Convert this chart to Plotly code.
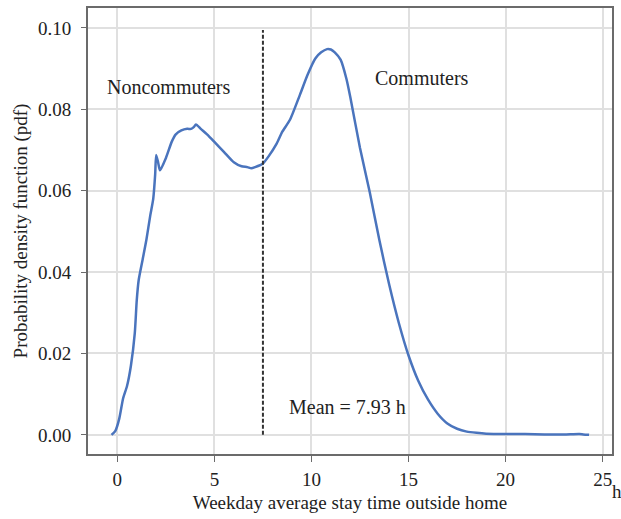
import plotly.graph_objects as go

hours = [-0.3, -0.1, 0.1, 0.3, 0.5, 0.7, 0.9, 1.0, 1.1, 1.3, 1.5, 1.7, 1.85, 1.95, 2.0, 2.1, 2.2,
         2.5, 2.8, 3.0, 3.3, 3.6, 3.8, 3.95, 4.05, 4.3, 4.7, 5.0, 5.5, 6.0, 6.4, 6.7, 6.9, 7.1,
         7.5, 7.8, 8.2, 8.5, 8.9, 9.4, 9.8, 10.2, 10.5, 10.8, 11.0, 11.2, 11.5, 11.8, 12.0, 12.5,
         13.0, 13.5, 14.0, 14.5, 15.0, 15.5, 16.0, 16.5, 17.0, 17.5, 18.0, 18.5, 19.0, 20.0, 21.0,
         22.0, 23.0, 23.8, 24.0, 24.3]
pdf = [0.0, 0.001, 0.004, 0.009, 0.012, 0.017, 0.025, 0.033, 0.038, 0.043, 0.048, 0.054, 0.058,
       0.064, 0.0688, 0.067, 0.065, 0.068, 0.072, 0.0738, 0.0748, 0.0752, 0.0752, 0.0757, 0.0763,
       0.0752, 0.0735, 0.072, 0.0695, 0.067, 0.066, 0.0658, 0.0655, 0.0658, 0.0667, 0.0685, 0.0715,
       0.0745, 0.0775, 0.0835, 0.0885, 0.0925, 0.094, 0.0948, 0.0947, 0.094, 0.0922, 0.0875, 0.083,
       0.0705, 0.0597, 0.0478, 0.037, 0.0275, 0.0195, 0.0133, 0.0087, 0.0052, 0.0028, 0.0015,
       0.0008, 0.0005, 0.0003, 0.0002, 0.0002, 0.0001, 0.0001, 0.0002, 0.0001, 0.0]

mean_line_x = 7.5
mean_label = "Mean = 7.93 h"
x_ticks = [0, 5, 10, 15, 20, 25]
y_ticks = [0.00, 0.02, 0.04, 0.06, 0.08, 0.10]
y_tick_text = ["0.00", "0.02", "0.04", "0.06", "0.08", "0.10"]

FONT = "Liberation Serif, Times New Roman, serif"
TXT = "#222222"

fig = go.Figure()
fig.add_trace(go.Scatter(x=hours, y=pdf, mode="lines",
                         line=dict(color="#4a74bd", width=2.5, shape="spline", smoothing=0.6),
                         showlegend=False))
fig.add_trace(go.Scatter(x=[mean_line_x, mean_line_x], y=[0, 0.0995], mode="lines",
                         line=dict(color="#333333", width=2, dash="4px,2px"), showlegend=False))

fig.add_annotation(x=2.64, y=0.0856, text="Noncommuters", showarrow=False,
                   font=dict(family=FONT, size=20, color=TXT))
fig.add_annotation(x=15.7, y=0.0878, text="Commuters", showarrow=False,
                   font=dict(family=FONT, size=20, color=TXT))
fig.add_annotation(x=11.87, y=0.0068, text=mean_label, showarrow=False,
                   font=dict(family=FONT, size=20, color=TXT))
fig.add_annotation(xref="paper", yref="paper", x=0.996, y=-0.085, text="h",
                   xanchor="left", yanchor="middle", showarrow=False,
                   font=dict(family=FONT, size=19, color=TXT))

fig.update_layout(
    width=621, height=519,
    margin=dict(l=88, r=9, t=6, b=65),
    paper_bgcolor="white", plot_bgcolor="white",
    font=dict(family=FONT, size=19, color=TXT),
    xaxis=dict(range=[-1.51, 25.48], tickvals=x_ticks, showgrid=True, gridcolor="#e0e0e0",
               gridwidth=1.5, zeroline=False, showline=True, linecolor="#6b6b6b", linewidth=2,
               mirror=True, ticks="outside", ticklen=6, tickcolor="#6b6b6b",
               ticklabelstandoff=1,
               title=dict(text="Weekday average stay time outside home", standoff=7,
                          font=dict(family=FONT, size=19, color=TXT))),
    yaxis=dict(range=[-0.0047, 0.1049], tickvals=y_ticks, ticktext=y_tick_text, showgrid=True,
               gridcolor="#e0e0e0", gridwidth=1.5, zeroline=False, showline=True,
               linecolor="#6b6b6b", linewidth=2, mirror=True, ticks="outside", ticklen=5,
               tickcolor="#6b6b6b", ticklabelstandoff=6,
               title=dict(text="Probability density function (pdf)", standoff=5,
                          font=dict(family=FONT, size=19, color=TXT))),
)

fig.write_html("out.html", config={"displayModeBar": False},
               post_script="document.body.style.margin='0';document.body.style.overflow='hidden';")
